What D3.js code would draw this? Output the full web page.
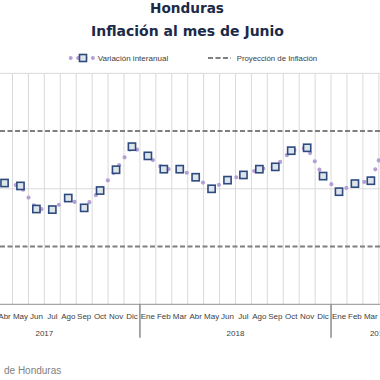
<!DOCTYPE html>
<html><head><meta charset="utf-8">
<script src="https://cdn.jsdelivr.net/npm/d3@7"></script>
<style>html,body{margin:0;padding:0;background:#fff;overflow:hidden}svg{display:block}</style>
</head><body>
<script>
const years = ["2017","2018","2019"];
const months = ["Ene","Feb","Mar","Abr","May","Jun","Jul","Ago","Sep","Oct","Nov","Dic"];
const monthsPerYear = [12,12,6];
// Variación interanual (%), Ene 2017 – Jun 2019
const values = [3.40,3.80,4.00,4.10,4.05,3.65,3.64,3.84,3.67,3.97,4.33,4.73,
                4.57,4.34,4.34,4.20,4.00,4.15,4.24,4.34,4.38,4.66,4.71,4.22,
                3.95,4.09,4.14,4.85,4.90,4.80];
const targetBand = [3,5];
const gridValues = [4,6];
const titleLines = ["Honduras","Inflación al mes de Junio"];
const legendLabels = ["Variación interanual","Proyección de Inflación"];
const sourceText = "de Honduras";

const cats = [];
years.forEach((y,yi)=>{ for(let m=0;m<monthsPerYear[yi];m++) cats.push({key:y+"-"+months[m], month:months[m], year:y}); });
const data = cats.map((c,i)=>({...c, v:values[i]}));

const W=380,H=380;
const svg = d3.select("body").append("svg").attr("width",W).attr("height",H);

const x = d3.scaleBand().domain(cats.map(c=>c.key)).range([-51.2,426.6]).padding(0);
const y = d3.scaleLinear().domain([2,6]).range([304.3,73.3]);
const cx = k => x(k)+x.bandwidth()/2;

// Title
svg.append("text").attr("x",187).attr("y",12.5).attr("text-anchor","middle")
  .attr("font-family","DejaVu Sans").attr("font-weight","bold").attr("font-size",14.5)
  .attr("fill","#1b2a48").attr("textLength",74).attr("lengthAdjust","spacingAndGlyphs").text(titleLines[0]);
svg.append("text").attr("x",187.5).attr("y",36).attr("text-anchor","middle")
  .attr("font-family","DejaVu Sans").attr("font-weight","bold").attr("font-size",14.5)
  .attr("fill","#1b2a48").attr("textLength",193).attr("lengthAdjust","spacingAndGlyphs").text(titleLines[1]);

// Legend
const lg = svg.append("g");
lg.append("line").attr("x1",70.7).attr("x2",93).attr("y1",58).attr("y2",58)
  .attr("stroke","#b4a0d4").attr("stroke-width",4).attr("stroke-linecap","round").attr("stroke-dasharray","0 7.4");
lg.append("rect").attr("x",79.5).attr("y",54.5).attr("width",7).attr("height",7)
  .attr("fill","#dfe4ea").attr("stroke","#2c4a7e").attr("stroke-width",1.6);
lg.append("text").attr("x",97.7).attr("y",61).attr("font-family","Liberation Sans").attr("font-size",8)
  .attr("fill","#404040").attr("textLength",70.5).attr("lengthAdjust","spacingAndGlyphs").text(legendLabels[0]);
lg.append("line").attr("x1",208).attr("x2",231).attr("y1",58).attr("y2",58)
  .attr("stroke","#7f7f7f").attr("stroke-width",2).attr("stroke-dasharray","5 2.5");
lg.append("text").attr("x",236.7).attr("y",61).attr("font-family","Liberation Sans").attr("font-size",8)
  .attr("fill","#404040").attr("textLength",80.5).attr("lengthAdjust","spacingAndGlyphs").text(legendLabels[1]);

// Vertical gridlines at category boundaries
const bounds = cats.map(c=>x(c.key)).concat([x.range()[1]]);
svg.append("g").selectAll("line").data(bounds).join("line")
  .attr("x1",d=>d).attr("x2",d=>d).attr("y1",y(6)).attr("y2",y(2))
  .attr("stroke","#d9d9d9").attr("stroke-width",1);
// Horizontal gridlines
svg.append("g").selectAll("line").data(gridValues).join("line")
  .attr("x1",0).attr("x2",W).attr("y1",d=>y(d)).attr("y2",d=>y(d))
  .attr("stroke","#d9d9d9").attr("stroke-width",1);

// Target band dashed lines
svg.append("g").selectAll("line").data(targetBand).join("line")
  .attr("x1",0).attr("x2",W).attr("y1",d=>y(d)).attr("y2",d=>y(d))
  .attr("stroke","#7f7f7f").attr("stroke-width",2).attr("stroke-dasharray","5 2.5");

// Axis line
svg.append("line").attr("x1",0).attr("x2",W).attr("y1",y(2)).attr("y2",y(2))
  .attr("stroke","#a6a6a6").attr("stroke-width",1.2);

// Year separators
const yearBounds = [];
let idx=0;
years.forEach((yr,yi)=>{ yearBounds.push(x(cats[idx].key)); idx+=monthsPerYear[yi]; });
yearBounds.push(x.range()[1]);
svg.append("g").selectAll("line").data(yearBounds).join("line")
  .attr("x1",d=>d).attr("x2",d=>d).attr("y1",y(2)).attr("y2",y(2)+33.5)
  .attr("stroke","#8c8c8c").attr("stroke-width",1.5);

// Month labels (only those within the visible window)
svg.append("g").selectAll("text").data(cats.filter(c=>cx(c.key)>0 && cx(c.key)<W)).join("text")
  .attr("x",d=>cx(d.key)).attr("y",319).attr("text-anchor","middle")
  .attr("font-family","Liberation Sans").attr("font-size",8).attr("fill","#404040")
  .text(d=>d.month);
// Year labels
svg.append("g").selectAll("text").data(years).join("text")
  .attr("x",(d,i)=>(yearBounds[i]+yearBounds[i+1])/2).attr("y",336).attr("text-anchor","middle")
  .attr("font-family","Liberation Sans").attr("font-size",8).attr("fill","#404040")
  .text(d=>d);

// Series: dotted line
const line = d3.line().x(d=>cx(d.key)).y(d=>y(d.v));
svg.append("path").datum(data).attr("d",line).attr("fill","none")
  .attr("stroke","#b4a0d4").attr("stroke-width",4.2).attr("stroke-linecap","round")
  .attr("stroke-dasharray","0 9.5");
// Square markers
svg.append("g").selectAll("rect").data(data).join("rect")
  .attr("x",d=>cx(d.key)-3.6).attr("y",d=>y(d.v)-3.6).attr("width",7.2).attr("height",7.2)
  .attr("fill","#dfe4ea").attr("stroke","#2c4a7e").attr("stroke-width",1.6);

// Source
svg.append("text").attr("x",4).attr("y",374)
  .attr("font-family","Liberation Sans").attr("font-size",10).attr("fill","#7f7f7f").text(sourceText);
</script>
</body></html>
